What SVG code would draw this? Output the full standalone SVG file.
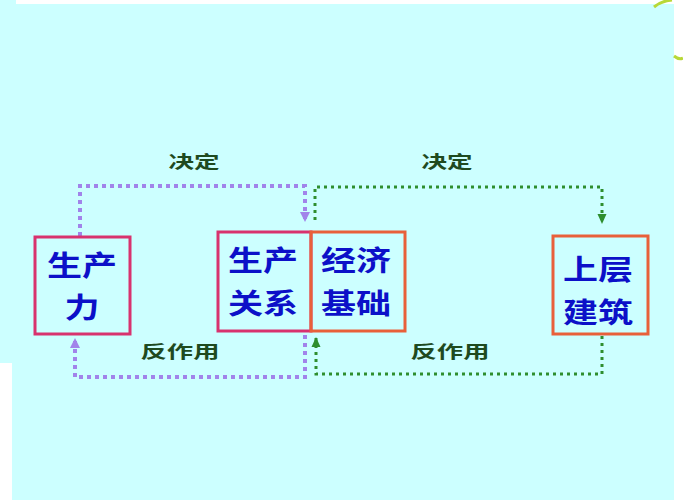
<svg xmlns="http://www.w3.org/2000/svg" width="683" height="500" viewBox="0 0 683 500">
<style>
.bg{fill:#ccffff}
.box1{fill:none;stroke:#d8326e;stroke-width:3}
.box2{fill:none;stroke:#e8603a;stroke-width:3}
.nt{font-family:"Noto Sans CJK SC","Noto Sans",sans-serif;font-weight:bold;font-size:28px;fill:#0c10c8;text-anchor:middle;dominant-baseline:central}
.lb{font-family:"Noto Sans CJK SC","Noto Sans",sans-serif;font-weight:bold;font-size:17px;fill:#1f4a1f;text-anchor:middle;dominant-baseline:central}
.pu{fill:none;stroke:#a183ea;stroke-width:4;stroke-dasharray:4 4}
.gr{fill:none;stroke:#2e8e2e;stroke-width:3;stroke-dasharray:3 4}
.deco{fill:none;stroke:#b8d838;stroke-width:3}
</style>
<defs>
<marker id="ap" markerUnits="userSpaceOnUse" markerWidth="12" markerHeight="12" refX="10" refY="6" orient="auto"><path d="M0 1 L10 6 L0 11 Z" fill="#a183ea"/></marker>
<marker id="ag" markerUnits="userSpaceOnUse" markerWidth="12" markerHeight="12" refX="10" refY="6" orient="auto"><path d="M0 1.5 L10 6 L0 10.5 Z" fill="#2e8e2e"/></marker>
</defs>
<rect width="683" height="500" fill="#ffffff"/>
<rect class="bg" x="0" y="0" width="16" height="363"/>
<rect class="bg" x="12" y="4" width="662" height="496"/>
<path class="deco" d="M654 7 Q661 1 672 0"/>
<path class="deco" d="M674 56 Q679 60 683 58"/>
<g id="connectors">
<path class="pu" d="M80 236 V186 H305 V222" marker-end="url(#ap)"/>
<path class="pu" d="M305 335 V377 H75 V338" marker-end="url(#ap)"/>
<path class="gr" d="M315 220 V187 H602 V224" marker-end="url(#ag)"/>
<path class="gr" d="M602 336 V374 H316 V337" marker-end="url(#ag)"/>
</g>
<g id="labels">
<text class="lb" transform="translate(194 161) scale(1.5 1)" x="0" y="0">决定</text>
<text class="lb" transform="translate(447 161) scale(1.5 1)" x="0" y="0">决定</text>
<text class="lb" transform="translate(180 350) scale(1.55 1)" x="0" y="0">反作用</text>
<text class="lb" transform="translate(450 350) scale(1.55 1)" x="0" y="0">反作用</text>
</g>
<g id="node-shengchanli">
<rect class="box1" x="35" y="237" width="95" height="97"/>
<text class="nt" transform="translate(82 0) scale(1.25 1)"><tspan x="0" y="264">生产</tspan><tspan x="0" y="306">力</tspan></text>
</g>
<g id="node-shengchanguanxi">
<rect class="box1" x="218" y="232" width="93" height="99"/>
<text class="nt" transform="translate(263 0) scale(1.25 1)"><tspan x="0" y="259">生产</tspan><tspan x="0" y="302">关系</tspan></text>
</g>
<g id="node-jingjijichu">
<rect class="box2" x="311" y="232" width="94" height="99"/>
<text class="nt" transform="translate(356 0) scale(1.25 1)"><tspan x="0" y="259">经济</tspan><tspan x="0" y="302">基础</tspan></text>
</g>
<g id="node-shangcengjianzhu">
<rect class="box2" x="553" y="236" width="95" height="98"/>
<text class="nt" transform="translate(598 0) scale(1.25 1)"><tspan x="0" y="268">上层</tspan><tspan x="0" y="311">建筑</tspan></text>
</g>
</svg>
